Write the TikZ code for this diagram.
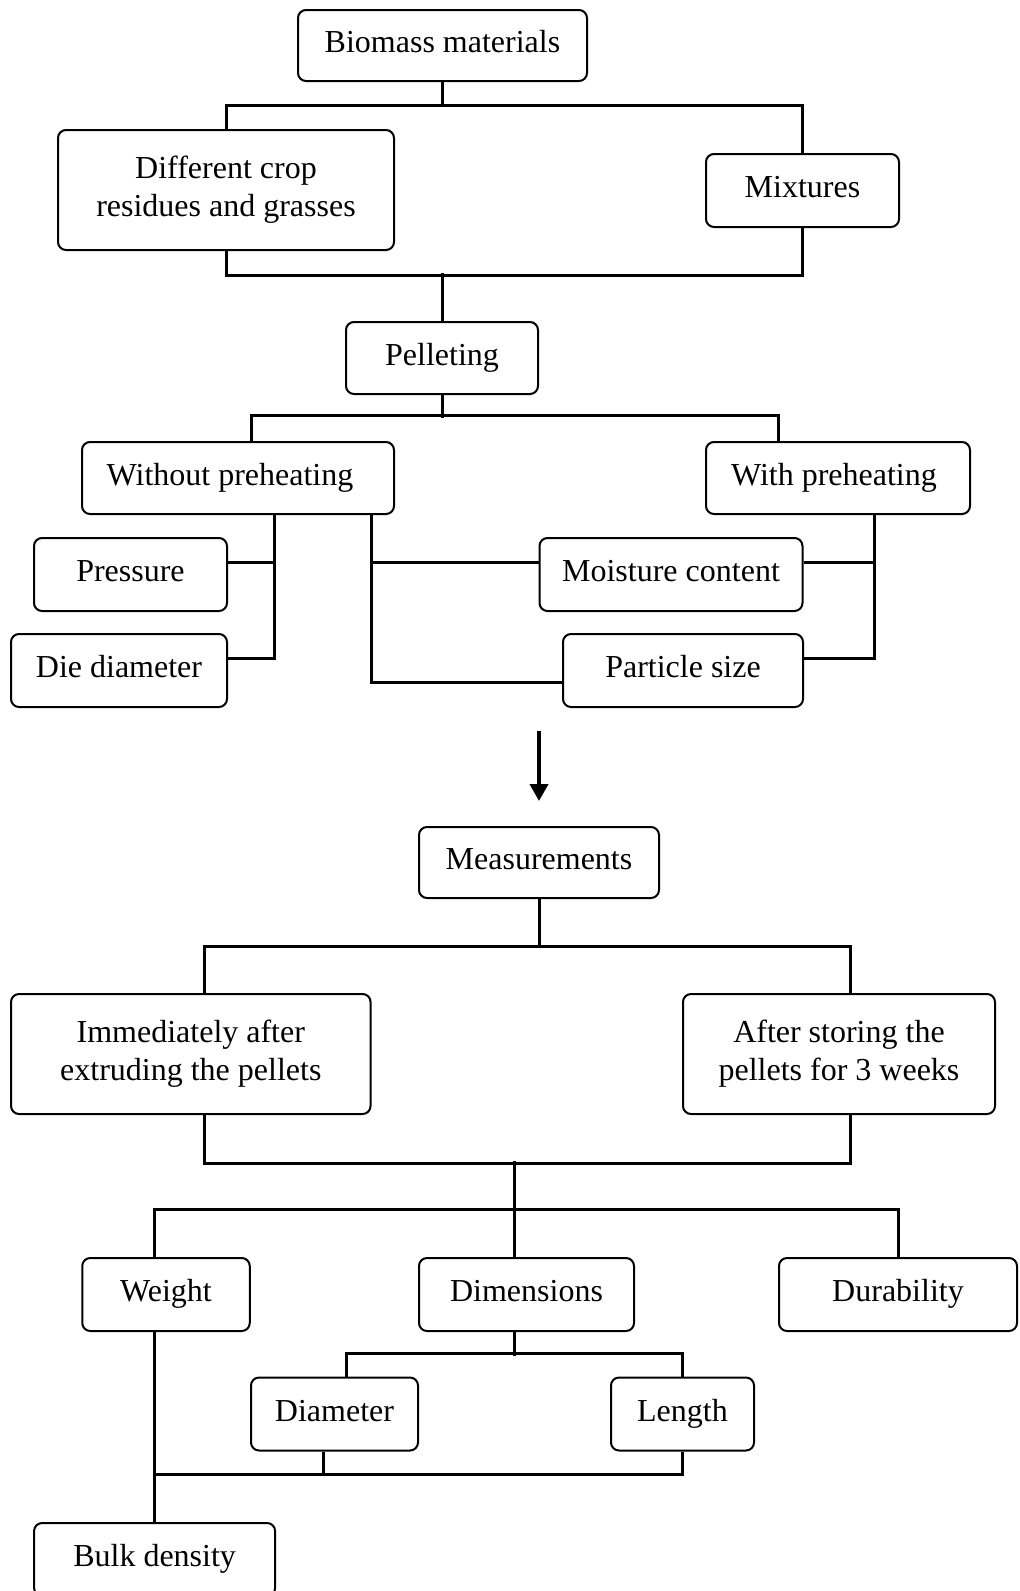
\documentclass[tikz,border=0pt]{standalone}
\usepackage{fontspec}
\setmainfont{Liberation Serif}
\usetikzlibrary{arrows.meta}
\tikzset{box/.style={draw,line width=1pt,rounded corners=4pt,align=center,
		 font=\fontsize{16}{19}\selectfont,inner sep=0pt,text height=11pt,text depth=4pt}}
\tikzset{twoline/.style={text height=,text depth=}}
\tikzset{link/.style={line width=1.5pt}}

\begin{document}
\begin{tikzpicture}[x=0.5pt,y=-0.5pt]
	\useasboundingbox (0,0) rectangle (1019,1591);

	% raw materials
	\node[box,minimum width=144.5pt,minimum height=35.5pt] (bio) at (442.5,45.5) {Biomass materials};
	\node[box,twoline,minimum width=168pt,minimum height=60pt] (crop) at (226,190) {Different crop\\residues and grasses};
	\node[box,minimum width=96.5pt,minimum height=36.5pt] (mix) at (802.5,190.5) {Mixtures};
	\node[box,minimum width=96pt,minimum height=36pt] (pel) at (442,358) {Pelleting};

	\draw[link] (bio.south) -- ++(0,25);
	\draw[link] (crop.north) -- ++(0,-24) -| (mix.north);
	\draw[link] (crop.south) -- ++(0,24) -| (mix.south);
	\draw[link] (pel.north) -- ++(0,-48);

	% pelleting conditions
	\node[box,minimum width=156pt,minimum height=36pt] (wo) at (238,478) {Without preheating\hspace{8pt}};
	\node[box,minimum width=132pt,minimum height=36pt] (wp) at (838,478) {With preheating\hspace{4pt}};
	\node[box,minimum width=96.5pt,minimum height=36.5pt] (press) at (130.5,574.5) {Pressure};
	\node[box,minimum width=108pt,minimum height=36.5pt] (die) at (119,670.5) {Die diameter};
	\node[box,minimum width=131.5pt,minimum height=36.5pt] (moist) at (671,574.5) {Moisture content};
	\node[box,minimum width=120pt,minimum height=36.5pt] (part) at (683,670.5) {Particle size};

	\draw[link] (pel.south) -- ++(0,23);
	\draw[link] ([xshift=6.5pt]wo.north) -- ++(0,-26) -| ([xshift=-30pt]wp.north);

	\draw[link] ([xshift=18pt]wo.south) |- ([yshift=6pt]die.east);
	\draw[link] ([yshift=6pt]press.east) -| ([xshift=18pt]wo.south);
	\draw[link] ([xshift=-12pt]wo.south east) |- ([yshift=-6pt]part.west);
	\draw[link] ([yshift=6pt]moist.west) -| ([xshift=-12pt]wo.south east);
	\draw[link] ([xshift=18pt]wp.south) |- ([yshift=6pt]part.east);
	\draw[link] ([yshift=6pt]moist.east) -| ([xshift=18pt]wp.south);

	% measurements
	\coordinate (arrtop) at (539,731);
	\node[box,minimum width=120pt,minimum height=35.5pt] (meas) at (539,862.5) {Measurements};
	\draw[line width=2pt,-{Triangle[width=9pt,length=8.5pt]}] (arrtop) -- ([yshift=12.5pt]meas.north);

	\node[box,twoline,minimum width=179.75pt,minimum height=60pt] (imm) at (190.8,1054) {Immediately after\\extruding the pellets};
	\node[box,twoline,minimum width=156pt,minimum height=60pt] (aft) at (839,1054) {After storing the\\pellets for 3 weeks};

	\draw[link] (meas.south) -- ++(0,49);
	\draw[link] ([xshift=7pt]imm.north) -- ++(0,-47) -| ([xshift=5.75pt]aft.north);
	\draw[link] ([xshift=7pt]imm.south) -- ++(0,48) -| ([xshift=5.75pt]aft.south);

	\node[box,minimum width=83.75pt,minimum height=36.5pt] (wt) at (166,1294.5) {Weight};
	\node[box,minimum width=107.5pt,minimum height=36.5pt] (dims) at (526.5,1294.5) {Dimensions};
	\node[box,minimum width=119pt,minimum height=36.5pt] (dur) at (898,1294.5) {Durability};
	\node[box,minimum width=83.5pt,minimum height=36.5pt] (diam) at (334.5,1414) {Diameter};
	\node[box,minimum width=71.5pt,minimum height=36.5pt] (len) at (682.5,1414) {Length};
	\node[box,minimum width=120.5pt,minimum height=36.5pt] (bulk) at (154.6,1559.5) {Bulk density};

	\draw[link] ([xshift=-6pt]dims.north) -- ++(0,-96);
	\draw[link] ([xshift=-5.7pt]wt.north) -- ++(0,-48) -| (dur.north);
	\draw[link] ([xshift=-6pt]dims.south) -- ++(0,24);
	\draw[link] ([xshift=5.75pt]diam.north) -- ++(0,-23) -| (len.north);
	\draw[link] ([xshift=-5.75pt]diam.south) -- ++(0,23);
	\draw[link] (len.south) -- ++(0,23) -| ([xshift=-5.7pt]wt.south);
	\draw[link] ([xshift=-5.7pt]wt.south) -- (bulk.north);
\end{tikzpicture}
\end{document}
